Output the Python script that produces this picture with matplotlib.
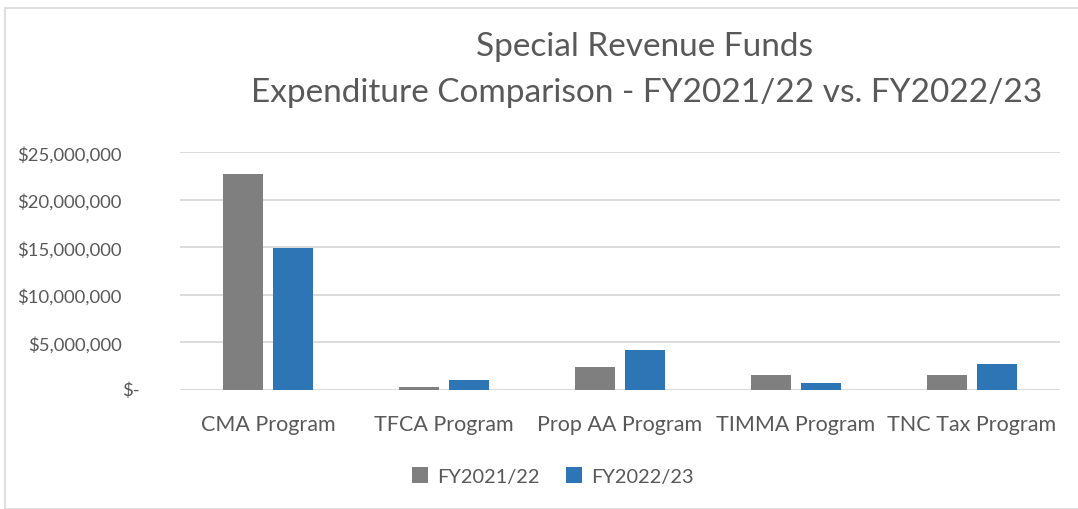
import matplotlib
matplotlib.use("Agg")
import matplotlib.pyplot as plt
import numpy as np
from matplotlib.patches import Rectangle

# data
categories = ["CMA Program", "TFCA Program", "Prop AA Program", "TIMMA Program", "TNC Tax Program"]
fy2122 = [22.74e6, 0.35e6, 2.39e6, 1.58e6, 1.61e6]
fy2223 = [14.95e6, 1.08e6, 4.18e6, 0.77e6, 2.74e6]
series_names = ["FY2021/22", "FY2022/23"]
y_ticks = [0, 5e6, 10e6, 15e6, 20e6, 25e6]
y_ticklabels = ["", "$5,000,000", "$10,000,000", "$15,000,000", "$20,000,000", "$25,000,000"]
zero_label = "$-"

GRAY = "#7F7F7F"
BLUE = "#2E75B6"
TXT = "#595959"

plt.rcParams["font.family"] = ["Lato", "DejaVu Sans"]

fig = plt.figure(figsize=(10.78, 5.10), dpi=100)
fig.patches.append(Rectangle((5 / 1078, 0), 1.2, 1 - 9 / 510, transform=fig.transFigure,
                             fill=False, edgecolor="#D9D9D9", linewidth=1.2))

ax = fig.add_axes([180 / 1078, 1 - 391 / 510, 880 / 1078, (391 - 153.3) / 510])

x = np.arange(len(categories))
w = 0.227
off = 0.142
ax.bar(x - off, fy2122, width=w, color=GRAY, label=series_names[0], zorder=3)
ax.bar(x + off, fy2223, width=w, color=BLUE, label=series_names[1], zorder=3)

ax.set_xlim(-0.5, len(categories) - 0.5)
ax.set_ylim(0, 25e6)
ax.set_yticks(y_ticks)
ax.set_yticklabels(y_ticklabels)
ax.set_xticks(x)
ax.set_xticklabels(categories)
ax.tick_params(axis="both", length=0, labelcolor=TXT)
ax.tick_params(axis="x", pad=17, labelsize=15.5)
ax.tick_params(axis="y", pad=42, labelsize=13.3)
ax.grid(axis="y", color="#D9D9D9", linewidth=1.3, zorder=0)
for s in ax.spines.values():
    s.set_visible(False)

# accounting-style "$-" sits a bit left of the other labels
ax.annotate(zero_label, xy=(0, y_ticks[0]), xycoords=ax.get_yaxis_transform(),
            xytext=(-40, 0), textcoords="offset pixels", ha="right", va="center",
            fontsize=13.3, color=TXT)

fig.text(645 / 1078, 1 - 47 / 510, "Special Revenue Funds", ha="center", va="center",
         fontsize=24, color=TXT)
fig.text(647 / 1078, 1 - 93 / 510, "Expenditure Comparison - FY2021/22 vs. FY2022/23",
         ha="center", va="center", fontsize=24, color=TXT)

fig.legend(loc="center", bbox_to_anchor=(553 / 1078, 1 - 477 / 510), ncol=2, frameon=False,
           fontsize=14.4, labelcolor=TXT, handlelength=0.8, handleheight=0.8,
           handletextpad=0.45, columnspacing=1.3)

fig.savefig("out.png", dpi=100)
